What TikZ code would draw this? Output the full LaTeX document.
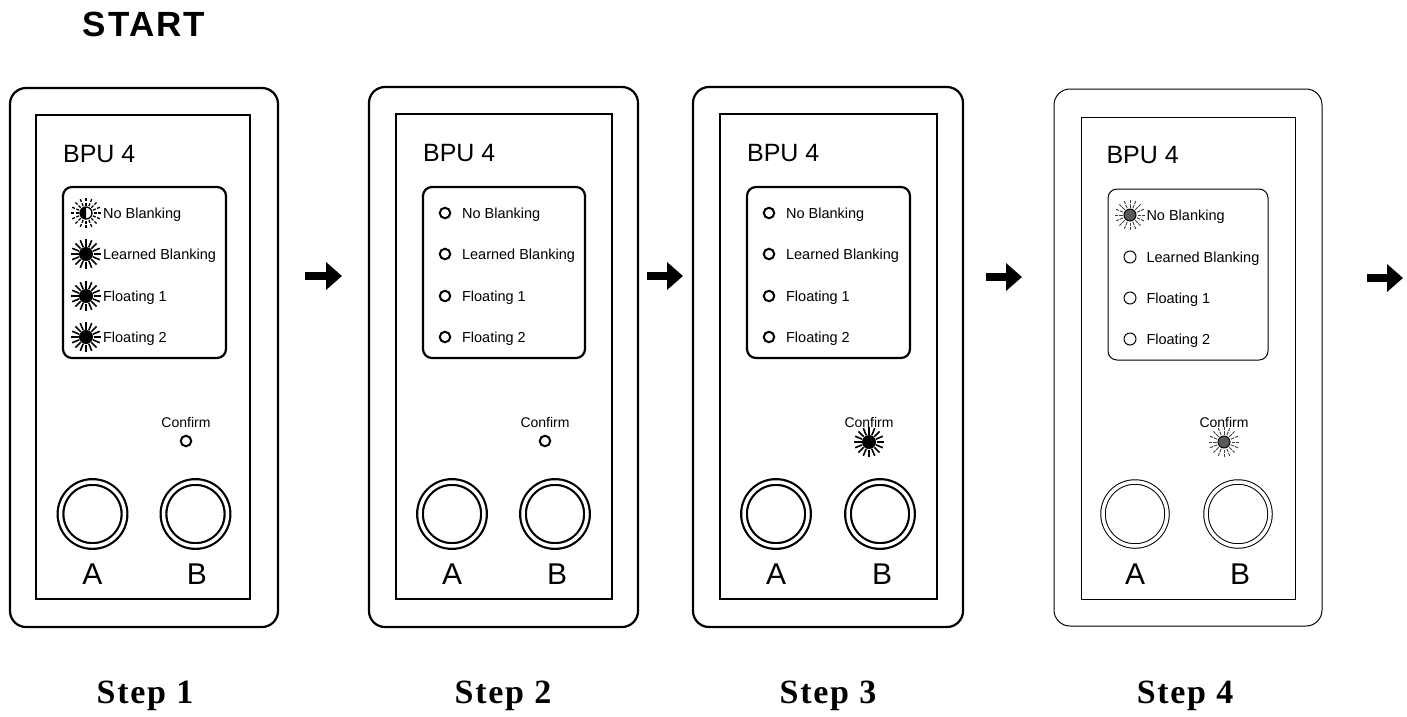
\documentclass[tikz,border=0pt]{standalone}
\usepackage{fontspec}
\setmainfont{Liberation Serif}
\setsansfont{Liberation Sans}
\newfontfamily\startfont[LetterSpace=6]{Liberation Sans}
\newfontfamily\stepfont[LetterSpace=5]{Liberation Serif}
\usetikzlibrary{positioning,arrows.meta}

\newcommand\ledrays[2]{%
  \foreach \a in {0,22.5,...,337.5}
    \draw[#2] (#1) ++(\a:7.5) -- ++(\a:7.5);}

\begin{document}
\begin{tikzpicture}[x=1pt,y=-1pt,
  case/.style={rounded corners=16pt},
  ledbox/.style={rounded corners=9pt},
  title/.style={font=\sffamily\fontsize{25}{25}\selectfont, anchor=base west, inner sep=0},
  item/.style={font=\sffamily\fontsize{14.5}{15}\selectfont, anchor=base west, inner sep=0},
  small/.style={font=\sffamily\fontsize{14}{14}\selectfont, anchor=base, inner sep=0},
  key/.style={font=\sffamily\fontsize{30}{30}\selectfont, anchor=base, inner sep=0},
  button/.style={circle, draw, double, double distance=3.5pt, minimum size=64pt, inner sep=0},
  ledoff/.style={circle, draw, line width=2pt, minimum size=10.5pt, inner sep=0},
  ledthin/.style={circle, draw, line width=1pt, minimum size=12pt, inner sep=0},
  ledon/.style={circle, draw, fill=black, line width=1pt, minimum size=13pt, inner sep=0},
  ledhalf/.style={circle, draw, line width=1.3pt, fill=white, minimum size=12pt, inner sep=0},
  leddim/.style={circle, draw, line width=1pt, fill=black!65, minimum size=12pt, inner sep=0},
  steplabel/.style={font=\stepfont\bfseries\fontsize{34}{34}\selectfont, anchor=base},
  nextarrow/.style={line width=8pt, -{Triangle[length=16pt,width=27pt]}}]
\useasboundingbox (0,0) rectangle (1407,716);

\node[font=\startfont\bfseries\fontsize{35}{35}\selectfont, anchor=base] (start) at (144,36) {START};

% step 1: all blanking modes lit
\begin{scope}[shift={(10,88)}, name prefix=s1-, line width=2.2pt]
  \draw[case] (0,0) rectangle (268,539);
  \draw (26,27) rectangle (240,511);
  \node[title] (name) at (52,74) {BPU 4};
  \draw[ledbox] (53,99) rectangle (216,270);
  \node[ledhalf] (led1) at (76,125) {};
  \fill (led1.center) ++(0,6) arc[start angle=90, end angle=270, radius=6] -- cycle;
  \ledrays{led1.center}{line width=1.3pt, dash pattern=on 3pt off 1.5pt}
  \node[ledon] (led2) at (76,166) {};
  \ledrays{led2.center}{line width=1.6pt}
  \node[ledon] (led3) at (76,208) {};
  \ledrays{led3.center}{line width=1.6pt}
  \node[ledon] (led4) at (76,249) {};
  \ledrays{led4.center}{line width=1.6pt}
  \node[item] (txt1) at (92,130) {No Blanking};
  \node[item] (txt2) at (92,171) {Learned Blanking};
  \node[item] (txt3) at (92,213) {Floating 1};
  \node[item] (txt4) at (92,254) {Floating 2};
  \node[small] (conf) at (176,339) {Confirm};
  \node[ledoff] (cled) at (176,353) {};
  \node[button] (btnA) at (82.5,426) {};
  \node[button] (btnB) at (185.5,426) {};
  \node[key] (keyA) at (82.5,496) {A};
  \node[key] (keyB) at (187,496) {B};
\end{scope}

% step 2: all off
\begin{scope}[shift={(369,87)}, name prefix=s2-, line width=2.2pt]
  \draw[case] (0,0) rectangle (269,540);
  \draw (27,27) rectangle (243,512);
  \node[title] (name) at (53,74) {BPU 4};
  \draw[ledbox] (54,100) rectangle (216,271);
  \node[ledoff] (led1) at (76,126) {};
  \node[ledoff] (led2) at (76,167) {};
  \node[ledoff] (led3) at (76,209) {};
  \node[ledoff] (led4) at (76,250) {};
  \node[item] (txt1) at (92,131) {No Blanking};
  \node[item] (txt2) at (92,172) {Learned Blanking};
  \node[item] (txt3) at (92,214) {Floating 1};
  \node[item] (txt4) at (92,255) {Floating 2};
  \node[small] (conf) at (176,340) {Confirm};
  \node[ledoff] (cled) at (176,354) {};
  \node[button] (btnA) at (83,427) {};
  \node[button] (btnB) at (186,427) {};
  \node[key] (keyA) at (83,497) {A};
  \node[key] (keyB) at (188,497) {B};
\end{scope}

% step 3: confirm lit
\begin{scope}[shift={(693,87)}, name prefix=s3-, line width=2.2pt]
  \draw[case] (0,0) rectangle (270,540);
  \draw (27,27) rectangle (244,512);
  \node[title] (name) at (53,74) {BPU 4};
  \draw[ledbox] (54,100) rectangle (217,271);
  \node[ledoff] (led1) at (76,126) {};
  \node[ledoff] (led2) at (76,167) {};
  \node[ledoff] (led3) at (76,209) {};
  \node[ledoff] (led4) at (76,250) {};
  \node[item] (txt1) at (92,131) {No Blanking};
  \node[item] (txt2) at (92,172) {Learned Blanking};
  \node[item] (txt3) at (92,214) {Floating 1};
  \node[item] (txt4) at (92,255) {Floating 2};
  \node[small] (conf) at (176,340) {Confirm};
  \node[ledon] (cled) at (176,355) {};
  \ledrays{cled.center}{line width=1.6pt}
  \node[button] (btnA) at (83,427) {};
  \node[button] (btnB) at (187,427) {};
  \node[key] (keyA) at (83,497) {A};
  \node[key] (keyB) at (189,497) {B};
\end{scope}

% step 4: no blanking and confirm flashing
\begin{scope}[shift={(1054,89)}, name prefix=s4-, line width=1pt]
  \draw[case] (0,0) rectangle (268,537);
  \draw (27,28) rectangle (241,510);
  \node[title] (name) at (52,74) {BPU 4};
  \draw[ledbox] (54,100) rectangle (214,271);
  \node[leddim] (led1) at (76,126) {};
  \ledrays{led1.center}{line width=0.9pt, black!75, dash pattern=on 3.5pt off 1pt}
  \node[ledthin] (led2) at (76,168) {};
  \node[ledthin] (led3) at (76,209) {};
  \node[ledthin] (led4) at (76,250) {};
  \node[item] (txt1) at (92,131) {No Blanking};
  \node[item] (txt2) at (92,173) {Learned Blanking};
  \node[item] (txt3) at (92,214) {Floating 1};
  \node[item] (txt4) at (92,255) {Floating 2};
  \node[small] (conf) at (170,338) {Confirm};
  \node[leddim] (cled) at (170,353) {};
  \ledrays{cled.center}{line width=0.9pt, black!75, dash pattern=on 3.5pt off 1pt}
  \node[button] (btnA) at (81,425) {};
  \node[button] (btnB) at (184,425) {};
  \node[key] (keyA) at (81,495) {A};
  \node[key] (keyB) at (186,495) {B};
\end{scope}

% arrows between steps
\coordinate (a1s) at (305,276);
\coordinate (a1e) at (342,276);
\coordinate (a2s) at (647,276);
\coordinate (a2e) at (683,276);
\coordinate (a3s) at (986,277);
\coordinate (a3e) at (1022,277);
\coordinate (a4s) at (1367,278);
\coordinate (a4e) at (1403,278);
\draw[nextarrow] (a1s) -- (a1e);
\draw[nextarrow] (a2s) -- (a2e);
\draw[nextarrow] (a3s) -- (a3e);
\draw[nextarrow] (a4s) -- (a4e);

\node[steplabel] (step1) at (145,703) {Step 1};
\node[steplabel] (step2) at (503,703) {Step 2};
\node[steplabel] (step3) at (828,703) {Step 3};
\node[steplabel] (step4) at (1185,703) {Step 4};
\end{tikzpicture}
\end{document}
